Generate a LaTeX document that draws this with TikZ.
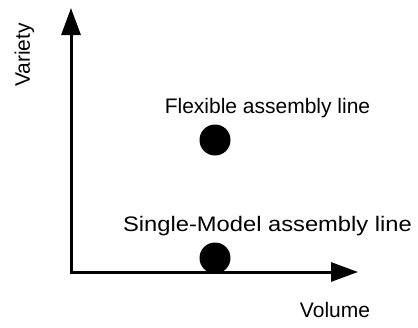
\documentclass[tikz,border=0pt]{standalone}
\usepackage{fontspec}
\setmainfont{Liberation Sans}
\usetikzlibrary{arrows.meta}
\begin{document}
\begin{tikzpicture}[x=1pt,y=-1pt,
  axis/.style={line width=3pt,-{Triangle[length=27pt,width=19pt]}},
  dot/.style={circle,fill=black,minimum size=31pt,inner sep=0pt},
  lbl/.style={font=\fontsize{21}{24}\selectfont,inner sep=0pt}]
\useasboundingbox (0,0) rectangle (418,327);
\coordinate (o) at (71,272);
\coordinate (ytip) at (71,8);
\coordinate (xtip) at (358,272);
\draw[axis] ([yshift=1.5pt]o) -- (ytip);
\draw[axis] ([xshift=-1.5pt]o) -- (xtip);
\node[dot] (d1) at (215,140) {};
\node[dot] (d2) at (215,258) {};
\node[lbl,anchor=base] (t1) at (267.5,113) {Flexible assembly line};
\node[lbl,anchor=base,xscale=1.13] (t2) at (267.5,231) {Single-Model assembly line};
\node[lbl,anchor=base] (t3) at (335,317) {Volume};
\node[lbl,anchor=base west,rotate=90] (t4) at (30,87) {Variety};
\end{tikzpicture}
\end{document}
